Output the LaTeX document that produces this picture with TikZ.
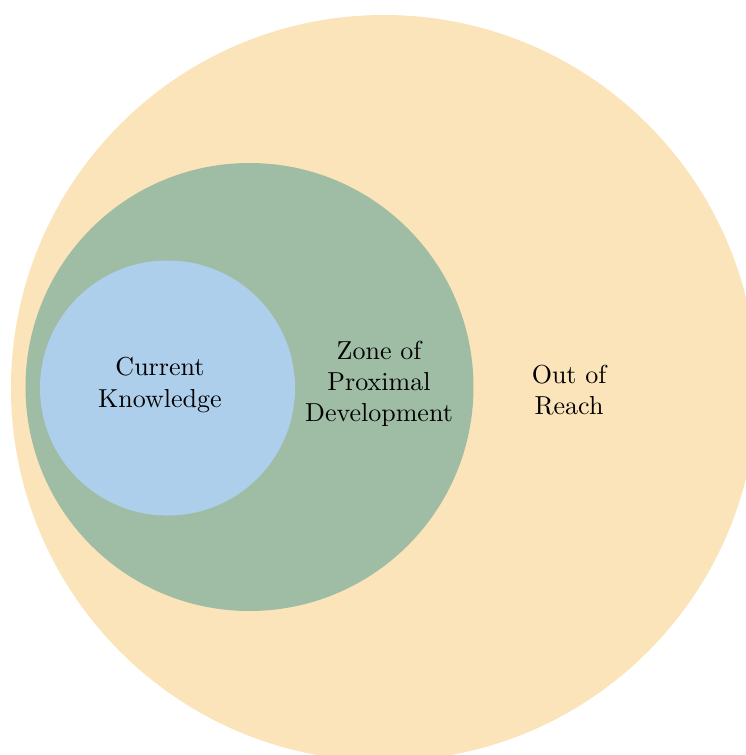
\documentclass[tikz,border=0pt]{standalone}
\definecolor{reachfill}{HTML}{FBE4B9}
\definecolor{zpdfill}{HTML}{9FBCA5}
\definecolor{knowfill}{HTML}{AECFEB}
\tikzset{
  zone/.style={fill=#1, draw=none},
  zonelabel/.style={align=center, inner sep=0pt}
}
\begin{document}
\begin{tikzpicture}[x=0.3846pt, y=-0.3846pt]
  \useasboundingbox (0,0) rectangle (746,755);
  \clip (0,0) rectangle (746,755);
  % nested zones
  \fill[zone=reachfill] (384,388) circle [radius=143.46pt];
  \fill[zone=zpdfill] (249.5,387) circle [radius=86.15pt];
  \fill[zone=knowfill] (167.5,388) circle [radius=49.04pt];
  % labels
  \node[zonelabel] (know) at (160,385) {Current\\Knowledge};
  \node[zonelabel] (zpd) at (379,384) {Zone of\\Proximal\\Development};
  \node[zonelabel] (reach) at (569,390) {Out of\\Reach};
\end{tikzpicture}
\end{document}
